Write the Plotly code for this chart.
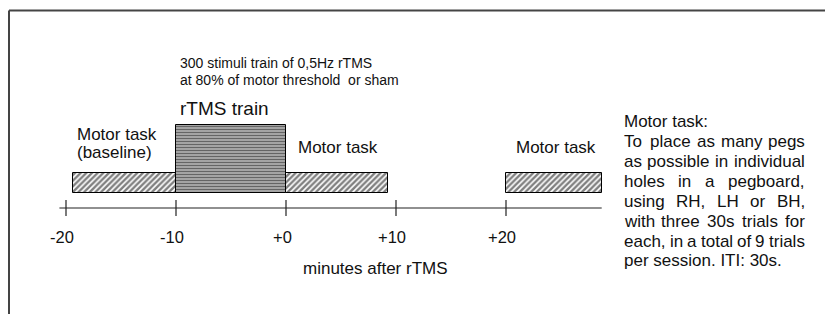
import plotly.graph_objects as go

# ---- data (minutes relative to end of rTMS train) ----
tick_vals = [-20, -10, 0, 10, 20]
tick_text = ["-20", "-10", "+0", "+10", "+20"]
task_starts = [-19.4, 0, 20]
task_ends = [-10, 9.3, 28.7]
rtms_start = [-10]
rtms_end = [0]
axis_extent = [-20.6, 28.7]

info_lines = [
    "Motor task:",
    "To place as many pegs",
    "as possible in individual",
    "holes in a pegboard,",
    "using RH, LH or BH,",
    "with  three 30s trials for",
    "each, in a total of 9 trials",
    "per session. ITI: 30s.",
]

FONT = "Liberation Sans, Arial, sans-serif"
# the page body has an 8px margin, so the figure is drawn 8px in from the window corner
OFF = 8
W, H = 833 - OFF, 314 - OFF

# Arial / Liberation Sans advance widths (per 1000 em)
AW = {' ': 278, 'a': 556, 'b': 556, 'c': 500, 'd': 556, 'e': 556, 'f': 278, 'g': 556, 'h': 556,
      'i': 222, 'j': 222, 'k': 500, 'l': 222, 'm': 833, 'n': 556, 'o': 556, 'p': 556, 'q': 556,
      'r': 333, 's': 500, 't': 278, 'u': 556, 'v': 500, 'w': 722, 'x': 500, 'y': 500, 'z': 500,
      'A': 667, 'B': 667, 'C': 722, 'D': 722, 'E': 667, 'F': 611, 'G': 778, 'H': 722, 'I': 278,
      'J': 500, 'K': 667, 'L': 556, 'M': 833, 'N': 722, 'O': 778, 'P': 667, 'Q': 778, 'R': 722,
      'S': 667, 'T': 611, 'U': 722, 'V': 667, 'W': 944, 'X': 667, 'Y': 667, 'Z': 611,
      ',': 278, '.': 278, ':': 278, '%': 889, '(': 333, ')': 333, '+': 584, '-': 333}


def text_width(s, size):
    return sum(AW.get(ch, 556) for ch in s) * size / 1000.0


def px(x):
    return (x - OFF) / W


def py(y):
    return 1 - (y - OFF) / H


TXT = "#111111"
fig = go.Figure()

# hatched motor-task blocks
fig.add_trace(go.Bar(
    orientation="h",
    base=task_starts,
    x=[e - s for s, e in zip(task_starts, task_ends)],
    y=[2.5] * len(task_starts),
    width=2.0,
    marker=dict(color="white", line=dict(color="black", width=1),
                pattern=dict(shape="/", fgcolor="#000000", bgcolor="white",
                             size=4, solidity=0.6)),
    hoverinfo="skip", showlegend=False,
))

# rTMS train block (horizontal lines)
fig.add_trace(go.Bar(
    orientation="h",
    base=rtms_start,
    x=[e - s for s, e in zip(rtms_start, rtms_end)],
    y=[4.9],
    width=6.8,
    marker=dict(color="#888888", line=dict(color="black", width=1),
                pattern=dict(shape="-", fgcolor="#111111", bgcolor="#b8b8b8",
                             size=3, solidity=0.5)),
    hoverinfo="skip", showlegend=False,
))

# time axis line
fig.add_trace(go.Scatter(
    x=axis_extent, y=[0, 0], mode="lines",
    line=dict(color="#222222", width=1.2),
    hoverinfo="skip", showlegend=False,
))

# tick marks crossing the axis
tx, ty = [], []
for v in tick_vals:
    tx += [v, v, None]
    ty += [-0.8, 0.8, None]
fig.add_trace(go.Scatter(
    x=tx, y=ty, mode="lines",
    line=dict(color="#222222", width=1.2),
    hoverinfo="skip", showlegend=False,
))

ann = []
for v, t in zip(tick_vals, tick_text):
    ann.append(dict(x=v, y=-2.9, text=t, showarrow=False, xshift=-4, yanchor="middle",
                    font=dict(size=16.5, color=TXT, family=FONT)))

ann.append(dict(x=1.4, y=-6.0, xanchor="left", yanchor="middle", text="minutes after rTMS",
                showarrow=False, font=dict(size=17, color=TXT, family=FONT)))

# labels for blocks
for x, y, t, s in [(-19.2, 7.4, "Motor task", 17), (-19.2, 5.6, "(baseline)", 17),
                   (0.9, 6.1, "Motor task", 17), (20.7, 6.1, "Motor task", 17),
                   (-9.8, 10.0, "rTMS train", 19),
                   (-9.8, 14.5, "300 stimuli train of 0,5Hz rTMS", 14),
                   (-9.8, 12.8, "at 80% of motor threshold  or sham", 14)]:
    ann.append(dict(x=x, y=y, xanchor="left", yanchor="middle", text=t, showarrow=False,
                    font=dict(size=s, color=TXT, family=FONT)))

# right-hand justified description
BX0, BX1, FS = 622, 803, 17
for i, line in enumerate(info_lines):
    yp = py(121 + 20 * i)
    justify = 1 <= i <= 6
    words = line.split()
    if not justify or len(words) < 2:
        ann.append(dict(x=px(BX0), y=yp, xref="paper", yref="paper", xanchor="left",
                        yanchor="middle", text=line, showarrow=False,
                        font=dict(size=FS, color=TXT, family=FONT)))
        continue
    widths = [text_width(w, FS) for w in words]
    gap = (BX1 - BX0 - sum(widths)) / (len(words) - 1)
    xpos = BX0
    for w, wd in zip(words, widths):
        ann.append(dict(x=px(xpos), y=yp, xref="paper", yref="paper", xanchor="left",
                        yanchor="middle", text=w, showarrow=False,
                        font=dict(size=FS, color=TXT, family=FONT)))
        xpos += wd + gap

# frame lines (top and left)
shapes = [
    dict(type="line", xref="paper", yref="paper", x0=px(9), x1=1, y0=py(10.5), y1=py(10.5),
         line=dict(color="#444444", width=2)),
    dict(type="line", xref="paper", yref="paper", x0=px(9), x1=px(9), y0=py(10.5), y1=0,
         line=dict(color="#444444", width=2)),
]

# x scale: 11 px per minute, 0 min at window x=286; y scale: 10 px per unit, axis at window y=208
x_lo = (OFF - 286) / 11.0
x_hi = (833 - 286) / 11.0
y_hi = (208 - OFF) / 10.0
y_lo = (208 - 314) / 10.0

fig.update_layout(
    width=W, height=H, autosize=False,
    margin=dict(l=0, r=0, t=0, b=0),
    paper_bgcolor="white", plot_bgcolor="white",
    xaxis=dict(range=[x_lo, x_hi], visible=False, fixedrange=True),
    yaxis=dict(range=[y_lo, y_hi], visible=False, fixedrange=True),
    annotations=ann, shapes=shapes,
    barmode="overlay", bargap=0,
)

fig.write_html("out.html")
